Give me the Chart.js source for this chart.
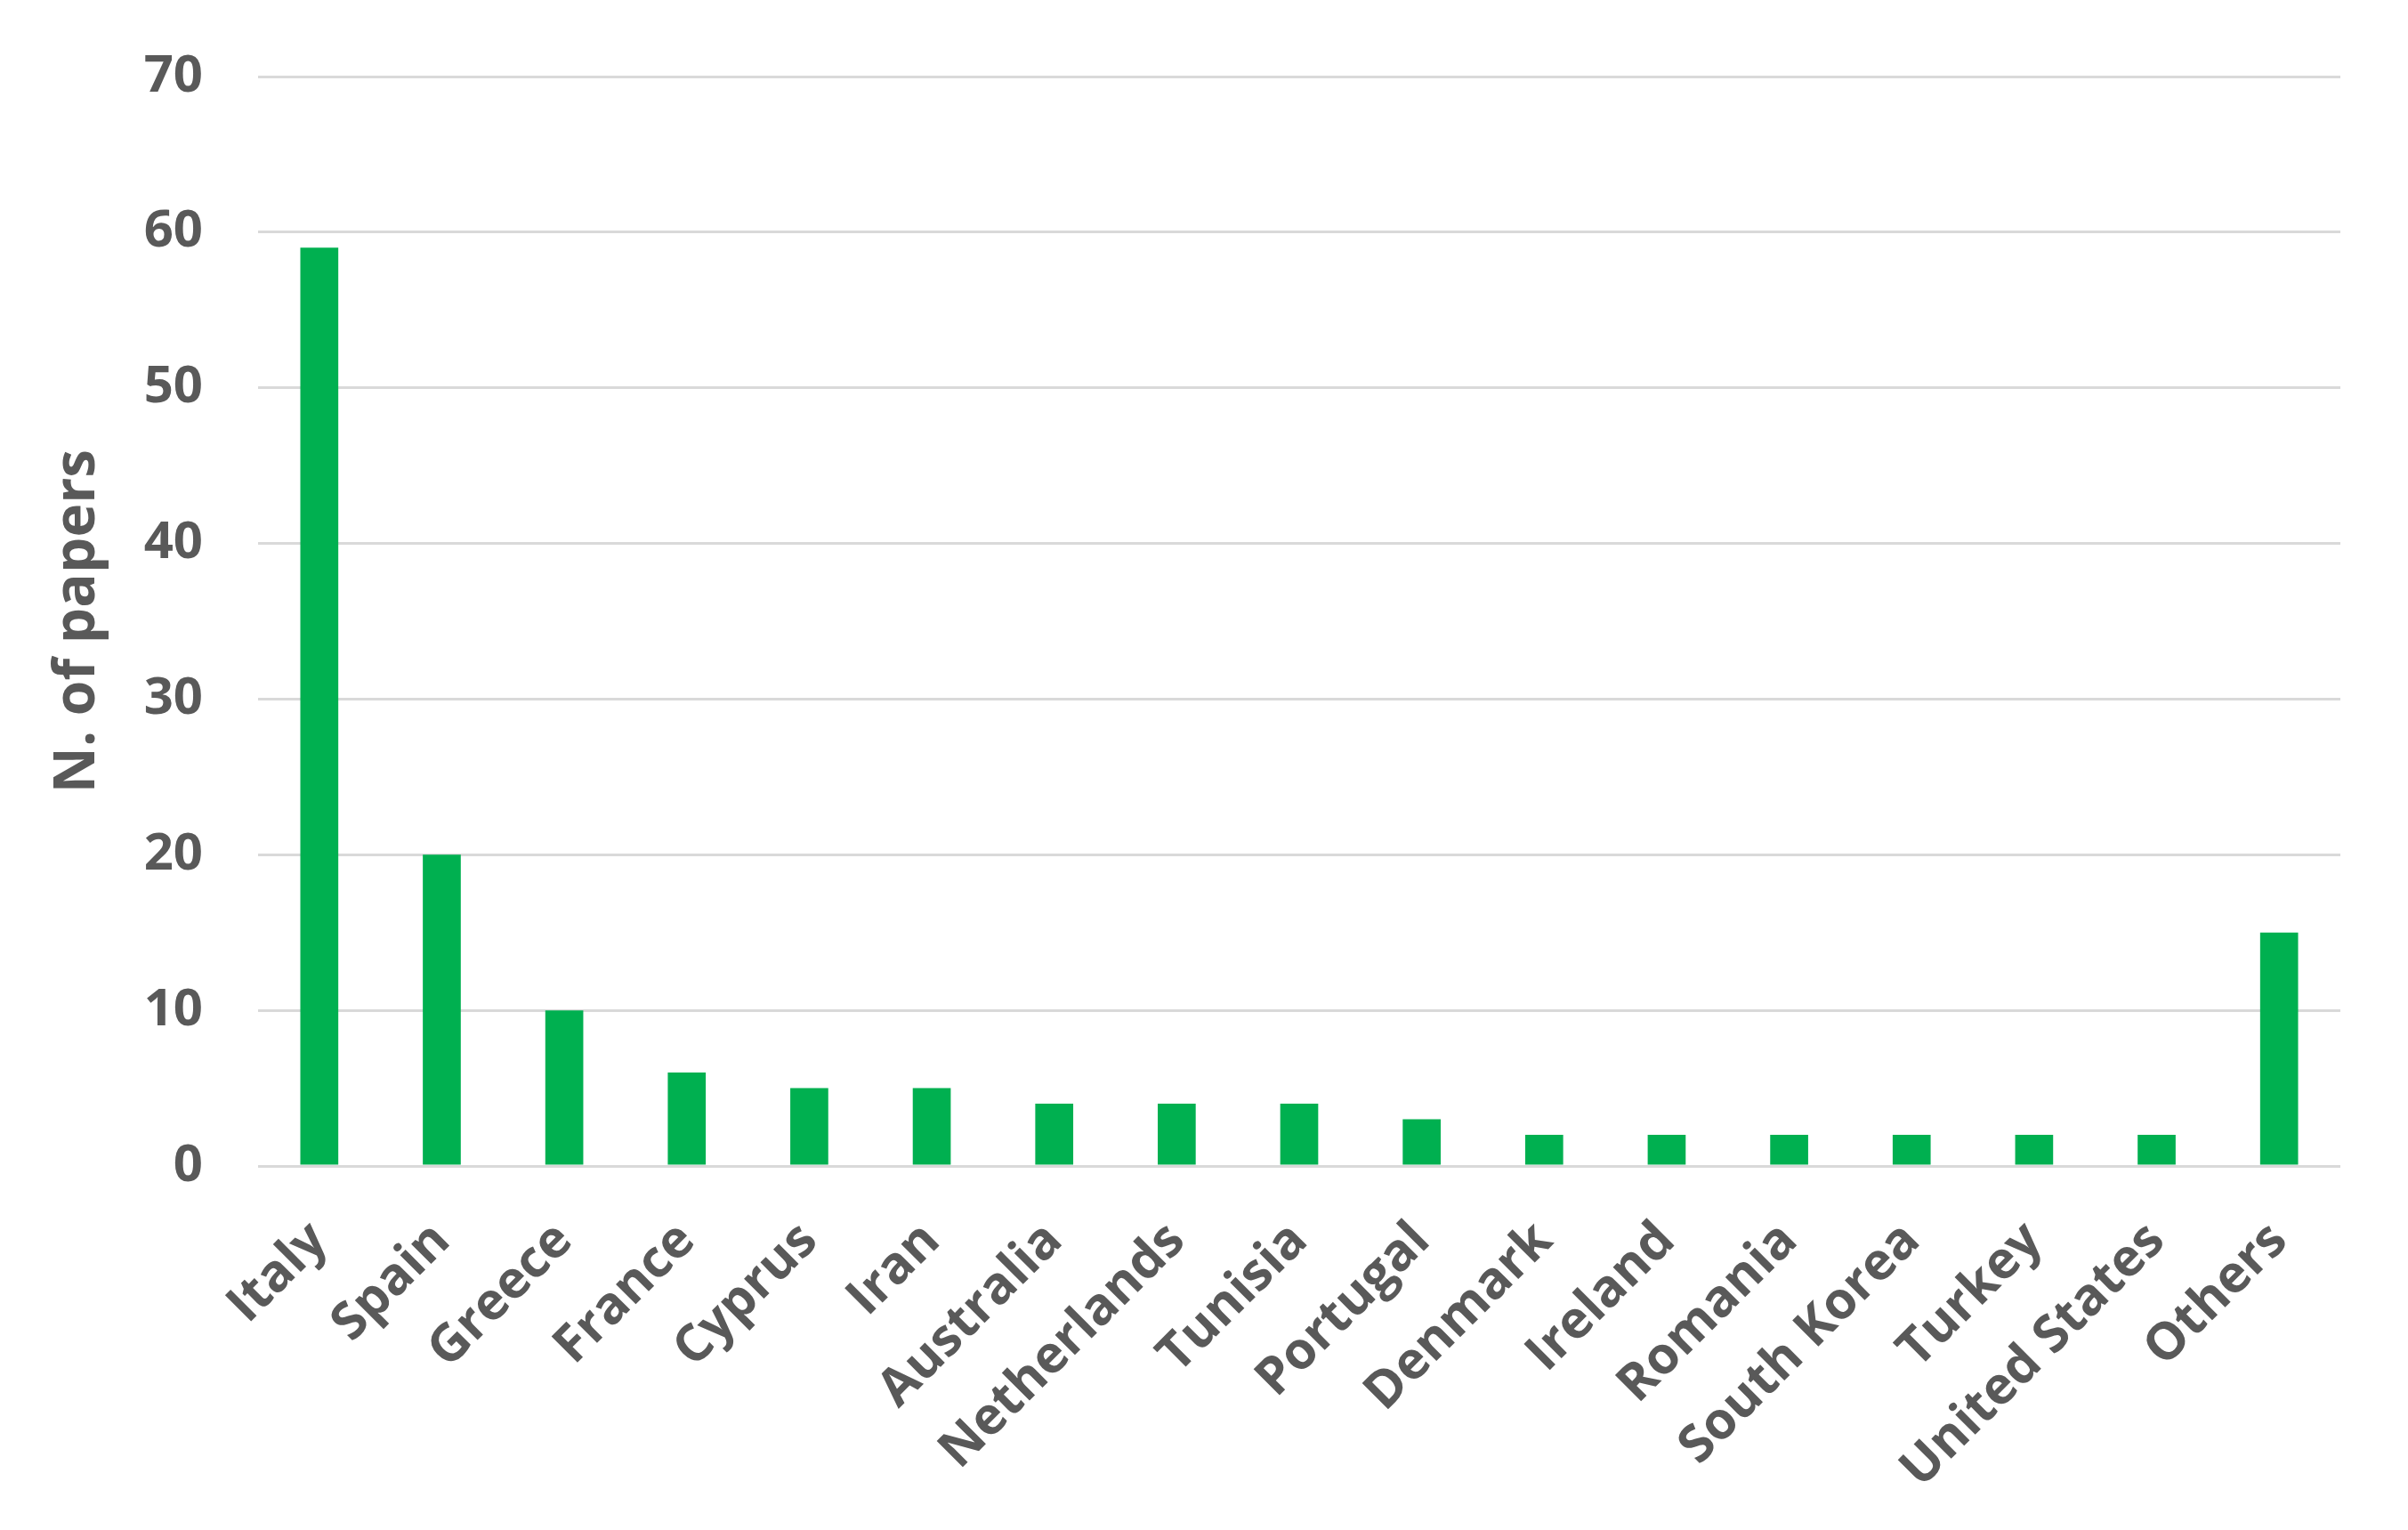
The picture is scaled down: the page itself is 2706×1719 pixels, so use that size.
<!DOCTYPE html>
<html>
<head>
<meta charset="utf-8">
<script src="https://cdn.jsdelivr.net/npm/chart.js@4/dist/chart.umd.min.js"></script>
<style>
  html, body { margin: 0; padding: 0; background: #fff; }
  #wrap { width: 2706px; height: 1719px; }
</style>
</head>
<body>
<div id="wrap"><canvas id="papersChart" width="2706" height="1719"></canvas></div>
<script>
// Dados do gráfico
const countries = ['Italy', 'Spain', 'Greece', 'France', 'Cyprus', 'Iran', 'Australia', 'Netherlands',
    'Tunisia', 'Portugal', 'Denmark', 'Ireland', 'Romania', 'South Korea', 'Turkey', 'United States', 'Others'];
const papers = [59, 20, 10, 6, 5, 5, 4, 4, 4, 3, 2, 2, 2, 2, 2, 2, 15];
const yTicks = [0, 10, 20, 30, 40, 50, 60, 70];

const textColor = '#595959';
const fontFamily = '"Open Sans", "Noto Sans", sans-serif';

document.addEventListener('DOMContentLoaded', () => {
    try {
        initPapersChart();
    } catch (error) {
        console.error('Error initializing chart:', error);
    }
});

function initPapersChart() {
    const ctx = document.getElementById('papersChart');
    if (!ctx) return;

    new Chart(ctx, {
        type: 'bar',
        data: {
            labels: countries,
            datasets: [{
                label: 'N. of papers',
                data: papers,
                backgroundColor: '#00B050',
                borderWidth: 0,
                categoryPercentage: 1,
                barPercentage: 0.31
            }]
        },
        options: {
            responsive: false,
            animation: false,
            layout: {
                padding: { top: 86, right: 76, left: 0, bottom: 0 }
            },
            scales: {
                x: {
                    grid: { display: false, drawTicks: false },
                    border: { display: false },
                    ticks: {
                        color: textColor,
                        font: { family: fontFamily, size: 58, weight: 'bold' },
                        minRotation: 45,
                        maxRotation: 45,
                        padding: 50,
                        autoSkip: false
                    },
                    afterFit: (scale) => { scale.height = 409; }
                },
                y: {
                    min: 0,
                    max: 70,
                    afterBuildTicks: (scale) => {
                        scale.ticks = yTicks.map(v => ({ value: v }));
                    },
                    grid: { color: '#D9D9D9', lineWidth: 3, drawTicks: false },
                    border: { display: false },
                    ticks: {
                        color: textColor,
                        font: { family: fontFamily, size: 58, weight: 'bold' },
                        padding: 62
                    },
                    title: {
                        display: true,
                        text: 'N. of papers',
                        color: textColor,
                        font: { family: fontFamily, size: 64, weight: 'bold', lineHeight: 1 },
                        padding: { top: 56, bottom: 0 }
                    },
                    afterFit: (scale) => {
                        scale.width = 290;
                        // o padding dos ticks não deve empurrar a área do gráfico
                        scale.paddingTop = 0;
                        scale.paddingBottom = 0;
                    }
                }
            },
            plugins: {
                legend: { display: false },
                tooltip: { enabled: false }
            }
        }
    });
}
</script>
</body>
</html>
